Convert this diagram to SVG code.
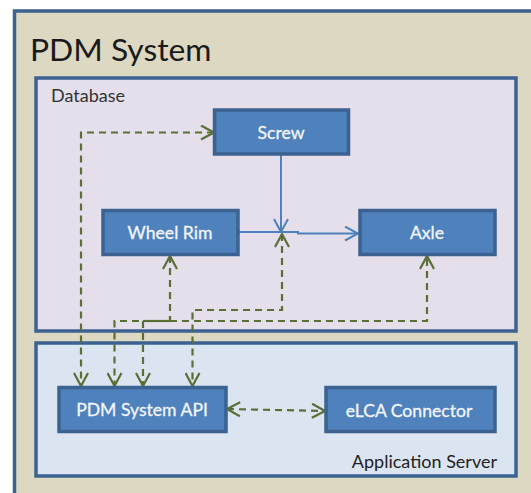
<svg xmlns="http://www.w3.org/2000/svg" width="531" height="493" viewBox="0 0 531 493">
<style>
text{font-family:Lato,"Liberation Sans",sans-serif}
.box{stroke:#3b6290;stroke-width:3.5}
.node{fill:#4f81bd;stroke:#3b6290;stroke-width:3.5}
.lbl{fill:#f2f6fb;font-size:17.600px;text-anchor:middle;stroke:#f2f6fb;stroke-width:0.3}
.dash{fill:none;stroke:#5a6f34;stroke-width:2.2;stroke-dasharray:7 5}
.solid{fill:none;stroke:#4f81bd;stroke-width:2}
</style>
<defs>
<marker id="ad" viewBox="0 0 16 16" refX="15" refY="8" markerWidth="16" markerHeight="16" markerUnits="userSpaceOnUse" orient="auto-start-reverse"><path d="M2 1L15 8L2 15" fill="none" stroke="#5a6f34" stroke-width="2.2"/></marker>
<marker id="as" viewBox="0 0 16 16" refX="15" refY="8" markerWidth="16" markerHeight="16" markerUnits="userSpaceOnUse" orient="auto"><path d="M2 1L15 8L2 15" fill="none" stroke="#4f81bd" stroke-width="2"/></marker>
</defs>
<rect width="531" height="493" fill="#fff"/>
<g id="pdm-system"><rect class="box" x="14.500" y="11" width="530" height="500" fill="#ddd8c2"/><text x="30" y="61" font-size="31.800" fill="#1a1a1a">PDM System</text></g>
<g id="database"><rect class="box" x="36" y="78" width="480" height="253" fill="#e5dfec"/><text x="51" y="102" font-size="18" fill="#333">Database</text></g>
<g id="application-server"><rect class="box" x="36" y="343" width="480" height="133" fill="#dbe5f1"/><text x="497" y="468" font-size="18" fill="#222" text-anchor="end">Application Server</text></g>
<g id="connectors">
<path class="dash" d="M214 132.500H81V386" marker-start="url(#ad)" marker-end="url(#ad)"/>
<path class="dash" d="M170 256V321H114.500V386" marker-start="url(#ad)" marker-end="url(#ad)"/>
<path class="dash" d="M143 321V386" marker-end="url(#ad)"/>
<path class="dash" d="M170 321H427V256" marker-end="url(#ad)"/>
<path d="M143 321H170" fill="none" stroke="#5a6f34" stroke-width="2.200"/>
<path class="dash" d="M282 234V310H192.500V386" marker-start="url(#ad)" marker-end="url(#ad)"/>
<path class="dash" d="M227 409L325 411" marker-start="url(#ad)" marker-end="url(#ad)"/>
<path class="solid" d="M281 155V232" marker-end="url(#as)"/>
<path class="solid" d="M238 232H298V233.500H358" marker-end="url(#as)"/>
</g>
<g id="screw"><rect class="node" x="214.500" y="110" width="134" height="44"/><text class="lbl" x="281" y="139">Screw</text></g>
<g id="wheel-rim"><rect class="node" x="103" y="210.500" width="135" height="44"/><text class="lbl" x="170" y="239">Wheel Rim</text></g>
<g id="axle"><rect class="node" x="360" y="210.500" width="135" height="44"/><text class="lbl" x="427" y="239">Axle</text></g>
<g id="pdm-api"><rect class="node" x="59" y="387.500" width="167" height="44"/><text class="lbl" x="142" y="416">PDM System API</text></g>
<g id="elca"><rect class="node" x="326" y="387.500" width="169" height="44"/><text class="lbl" x="409" y="417">eLCA Connector</text></g>
</svg>
